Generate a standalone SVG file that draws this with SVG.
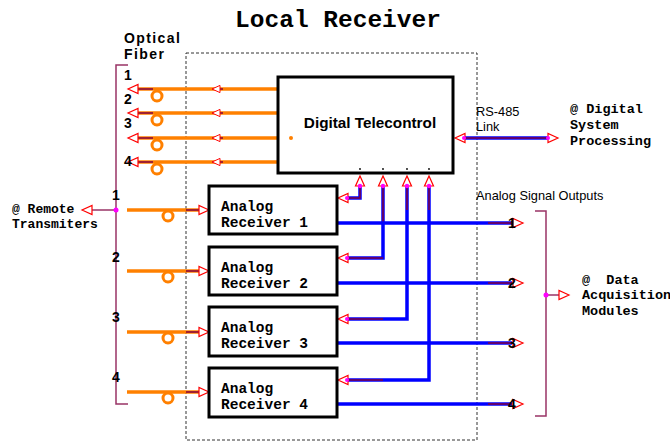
<svg xmlns="http://www.w3.org/2000/svg" xmlns:xlink="http://www.w3.org/1999/xlink" width="670" height="442" viewBox="0 0 670 442">
<style>
.mono{font-family:"Liberation Mono","Courier New",monospace;font-weight:bold;fill:#000}
.sans{font-family:"Liberation Sans",Arial,sans-serif;fill:#000}
.bold{font-weight:bold}
.box{fill:#fff;stroke:#000;stroke-width:3}
.fib{stroke:#FF8000;stroke-width:3.5;fill:none}
.loop{stroke:#FF8000;stroke-width:3;fill:none}
.blue{stroke:#0000FF;stroke-width:3.5;fill:none;stroke-linejoin:miter}
.core{stroke:#800040;stroke-width:1.5;fill:none}
.brk{stroke:#993366;stroke-width:1.5;fill:none}
.ah{fill:#fff;stroke:#FF0000;stroke-width:1.2}
.dot{fill:#FF00FF}
</style>
<defs>
<path id="ah" d="M0,0 L-10,-4.5 L-10,4.5 Z" class="ah"/>
</defs>
<rect width="670" height="442" fill="#fff"/>
<text x="338" y="27" class="mono" font-size="24.5" text-anchor="middle">Local Receiver</text>
<rect id="local-receiver-boundary" x="186" y="53" width="291" height="387" fill="none" stroke="#333" stroke-width="1" stroke-dasharray="3,2"/>

<g id="connectors">
  <!-- fiber lines to digital telecontrol -->
  <g>
    <line class="fib" x1="137" y1="89" x2="278" y2="89"/>
    <line class="fib" x1="137" y1="113" x2="278" y2="113"/>
    <line class="fib" x1="137" y1="138" x2="278" y2="138"/>
    <line class="fib" x1="137" y1="162" x2="278" y2="162"/>
    <circle class="loop" cx="157" cy="96" r="5"/>
    <circle class="loop" cx="157" cy="120" r="5"/>
    <circle class="loop" cx="157" cy="145" r="5"/>
    <circle class="loop" cx="157" cy="169" r="5"/>
    <line class="core" x1="138" y1="89" x2="153" y2="89"/>
    <line class="core" x1="138" y1="113" x2="153" y2="113"/>
    <line class="core" x1="138" y1="138" x2="153" y2="138"/>
    <line class="core" x1="138" y1="162" x2="153" y2="162"/>
    <line class="core" x1="212" y1="89" x2="223" y2="89"/>
    <line class="core" x1="212" y1="113" x2="223" y2="113"/>
    <line class="core" x1="212" y1="138" x2="223" y2="138"/>
    <line class="core" x1="212" y1="162" x2="223" y2="162"/>
    <use xlink:href="#ah" transform="translate(128,89) rotate(180)"/>
    <use xlink:href="#ah" transform="translate(128,113) rotate(180)"/>
    <use xlink:href="#ah" transform="translate(128,138) rotate(180)"/>
    <use xlink:href="#ah" transform="translate(128,162) rotate(180)"/>
    <use xlink:href="#ah" transform="translate(212,89) rotate(180) scale(0.8)"/>
    <use xlink:href="#ah" transform="translate(212,113) rotate(180) scale(0.8)"/>
    <use xlink:href="#ah" transform="translate(212,138) rotate(180) scale(0.8)"/>
    <use xlink:href="#ah" transform="translate(212,162) rotate(180) scale(0.8)"/>
  </g>
  <!-- analog fiber inputs -->
  <g>
    <line class="fib" x1="127" y1="210" x2="199" y2="210"/>
    <line class="fib" x1="127" y1="271" x2="199" y2="271"/>
    <line class="fib" x1="127" y1="332" x2="199" y2="332"/>
    <line class="fib" x1="127" y1="392" x2="199" y2="392"/>
    <circle class="loop" cx="168" cy="216" r="5"/>
    <circle class="loop" cx="168" cy="277" r="5"/>
    <circle class="loop" cx="168" cy="338" r="5"/>
    <circle class="loop" cx="168" cy="398" r="5"/>
    <line class="core" x1="186" y1="210" x2="199" y2="210" stroke-width="2"/>
    <line class="core" x1="186" y1="271" x2="199" y2="271" stroke-width="2"/>
    <line class="core" x1="186" y1="332" x2="199" y2="332" stroke-width="2"/>
    <line class="core" x1="186" y1="392" x2="199" y2="392" stroke-width="2"/>
    <use xlink:href="#ah" transform="translate(209,210)"/>
    <use xlink:href="#ah" transform="translate(209,271)"/>
    <use xlink:href="#ah" transform="translate(209,332)"/>
    <use xlink:href="#ah" transform="translate(209,392)"/>
  </g>
  <!-- control lines -->
  <g>
    <path class="blue" d="M360,186 V198 H347"/>
    <path class="blue" d="M383,186 V258 H347"/>
    <path class="blue" d="M407,186 V319 H347"/>
    <path class="blue" d="M429,186 V380 H347"/>
    <path class="core" d="M360,186 V198 H347"/>
    <line class="core" x1="383" y1="186" x2="383" y2="222"/>
    <line class="core" x1="407" y1="186" x2="407" y2="210"/>
    <line class="core" x1="429" y1="186" x2="429" y2="210"/>
    <line class="core" x1="347" y1="258" x2="383" y2="258"/>
    <line class="core" x1="347" y1="319" x2="383" y2="319"/>
    <line class="core" x1="347" y1="380" x2="383" y2="380"/>
    <use xlink:href="#ah" transform="translate(360,176) rotate(-90)"/>
    <use xlink:href="#ah" transform="translate(383,176) rotate(-90)"/>
    <use xlink:href="#ah" transform="translate(407,176) rotate(-90)"/>
    <use xlink:href="#ah" transform="translate(429,176) rotate(-90)"/>
    <circle class="dot" cx="360" cy="186" r="2.2"/>
    <circle class="dot" cx="383" cy="186" r="2.2"/>
    <circle class="dot" cx="407" cy="186" r="2.2"/>
    <circle class="dot" cx="429" cy="186" r="2.2"/>
    <use xlink:href="#ah" transform="translate(338,198) rotate(180)"/>
    <use xlink:href="#ah" transform="translate(338,258) rotate(180)"/>
    <use xlink:href="#ah" transform="translate(338,319) rotate(180)"/>
    <use xlink:href="#ah" transform="translate(338,380) rotate(180)"/>
    <circle class="dot" cx="347" cy="198" r="2"/>
    <circle class="dot" cx="347" cy="258" r="2"/>
    <circle class="dot" cx="347" cy="319" r="2"/>
    <circle class="dot" cx="347" cy="380" r="2"/>
  </g>
  <!-- analog outputs -->
  <g>
    <line class="blue" x1="338" y1="223" x2="512" y2="223"/>
    <line class="blue" x1="338" y1="283" x2="512" y2="283"/>
    <line class="blue" x1="338" y1="343" x2="512" y2="343"/>
    <line class="blue" x1="338" y1="404" x2="512" y2="404"/>
    <line class="core" x1="488" y1="223" x2="512" y2="223"/>
    <line class="core" x1="488" y1="283" x2="512" y2="283"/>
    <line class="core" x1="488" y1="343" x2="512" y2="343"/>
    <line class="core" x1="488" y1="404" x2="512" y2="404"/>
    <use xlink:href="#ah" transform="translate(523,223)"/>
    <use xlink:href="#ah" transform="translate(523,283)"/>
    <use xlink:href="#ah" transform="translate(523,343)"/>
    <use xlink:href="#ah" transform="translate(523,404)"/>
  </g>
  <!-- RS-485 link -->
  <g>
    <line class="blue" x1="463" y1="138" x2="549" y2="138"/>
    <line class="core" x1="463" y1="138" x2="549" y2="138" stroke="#400080"/>
    <use xlink:href="#ah" transform="translate(455,138) rotate(180)"/>
    <use xlink:href="#ah" transform="translate(558,138)"/>
    <circle class="dot" cx="464" cy="138" r="2"/>
    <circle class="dot" cx="548" cy="138" r="2"/>
  </g>
  <!-- brackets -->
  <g>
    <path class="brk" d="M128,65 H116 V404 H128"/>
    <line class="brk" x1="116" y1="210" x2="92" y2="210"/>
    <use xlink:href="#ah" transform="translate(82,210) rotate(180)"/>
    <circle class="dot" cx="116" cy="210" r="2.5"/>
    <path class="brk" d="M535,211 H546 V416 H535"/>
    <line class="brk" x1="546" y1="295" x2="559" y2="295"/>
    <use xlink:href="#ah" transform="translate(569,295)"/>
    <circle class="dot" cx="546" cy="295" r="2.5"/>
  </g>
</g>

<g id="digital-telecontrol">
  <rect class="box" x="278" y="77" width="175" height="96"/>
  <text x="370" y="128" class="sans bold" font-size="15.3" text-anchor="middle">Digital Telecontrol</text>
  <circle cx="291" cy="138" r="2" fill="#FF8000"/>
  <circle cx="360" cy="169" r="0.9" fill="#000"/>
  <circle cx="383" cy="169" r="0.9" fill="#000"/>
  <circle cx="407" cy="169" r="0.9" fill="#000"/>
  <circle cx="429" cy="169" r="0.9" fill="#000"/>
</g>

<g id="analog-receiver-1">
  <rect class="box" x="209" y="186" width="128" height="48"/>
  <text x="221" y="210.5" class="mono" font-size="14.5">Analog</text>
  <text x="221" y="226.5" class="mono" font-size="14.5">Receiver 1</text>
</g>
<g id="analog-receiver-2">
  <rect class="box" x="209" y="247" width="128" height="48"/>
  <text x="221" y="271.5" class="mono" font-size="14.5">Analog</text>
  <text x="221" y="287.5" class="mono" font-size="14.5">Receiver 2</text>
</g>
<g id="analog-receiver-3">
  <rect class="box" x="209" y="307" width="128" height="49"/>
  <text x="221" y="331.5" class="mono" font-size="14.5">Analog</text>
  <text x="221" y="347.5" class="mono" font-size="14.5">Receiver 3</text>
</g>
<g id="analog-receiver-4">
  <rect class="box" x="209" y="368" width="128" height="49"/>
  <text x="221" y="392.5" class="mono" font-size="14.5">Analog</text>
  <text x="221" y="408.5" class="mono" font-size="14.5">Receiver 4</text>
</g>

<g id="labels">
  <text x="124" y="42.5" class="sans bold" font-size="14" letter-spacing="1.4">Optical</text>
  <text x="124" y="58.5" class="sans bold" font-size="14" letter-spacing="1.4">Fiber</text>
  <g class="sans bold" font-size="14">
    <text x="124" y="80">1</text>
    <text x="124" y="104">2</text>
    <text x="124" y="128">3</text>
    <text x="124" y="166">4</text>
    <text x="116" y="200" text-anchor="middle">1</text>
    <text x="116" y="262" text-anchor="middle">2</text>
    <text x="116" y="322" text-anchor="middle">3</text>
    <text x="116" y="382" text-anchor="middle">4</text>
    <text x="512" y="228" text-anchor="middle">1</text>
    <text x="512" y="288" text-anchor="middle">2</text>
    <text x="512" y="348" text-anchor="middle">3</text>
    <text x="512" y="409" text-anchor="middle">4</text>
  </g>
  <text x="12" y="213" class="mono" font-size="13">@ Remote</text>
  <text x="12" y="228" class="mono" font-size="13">Transmiters</text>
  <text x="476" y="116" class="sans" font-size="12.8">RS-485</text>
  <text x="476" y="131" class="sans" font-size="12.8">Link</text>
  <text x="570" y="113" class="mono" font-size="13.5">@ Digital</text>
  <text x="570" y="129" class="mono" font-size="13.5">System</text>
  <text x="570" y="145" class="mono" font-size="13.5">Processing</text>
  <text x="476" y="200" class="sans" font-size="12.8">Analog Signal Outputs</text>
  <text x="582" y="284" class="mono" font-size="13.5" xml:space="preserve">@  Data</text>
  <text x="582" y="299" class="mono" font-size="13.5">Acquisition</text>
  <text x="582" y="315" class="mono" font-size="13.5">Modules</text>
</g>
</svg>
